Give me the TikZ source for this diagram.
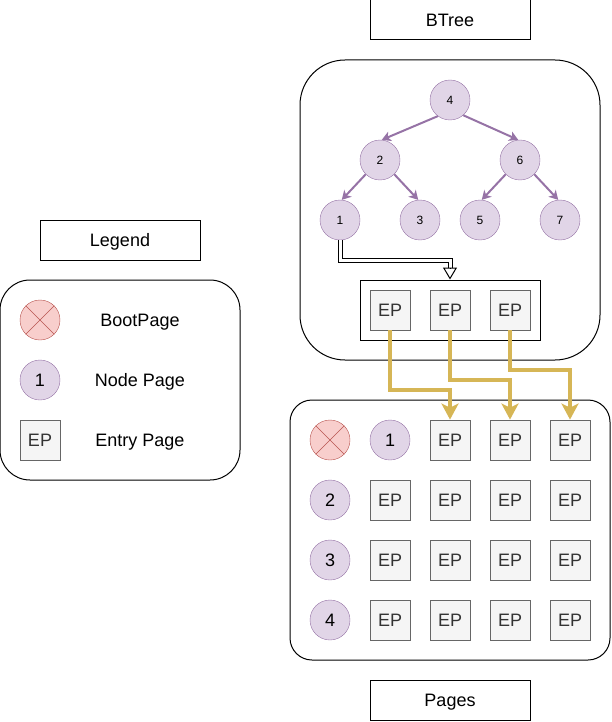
\documentclass[tikz,border=0pt]{standalone}
\usepackage{fontspec}
\setmainfont{Liberation Sans}
\usetikzlibrary{arrows.meta}
\definecolor{nodefill}{HTML}{E1D5E7}
\definecolor{nodeline}{HTML}{9673A6}
\definecolor{bootfill}{HTML}{F8CECC}
\definecolor{bootline}{HTML}{B85450}
\definecolor{epfill}{HTML}{F5F5F5}
\definecolor{epline}{HTML}{666666}
\definecolor{eptext}{HTML}{333333}
\definecolor{gold}{HTML}{D6B656}
\begin{document}
\begin{tikzpicture}[x=1pt,y=-1pt,
  bigfont/.style={font=\fontsize{18}{21}\selectfont,text height=12.9pt,text depth=0pt},
  title/.style={draw,line width=1pt,minimum width=160pt,minimum height=40pt,inner sep=0pt,bigfont},
  label/.style={bigfont},
  page/.style={circle,draw=nodeline,fill=nodefill,minimum size=40pt,inner sep=0pt,bigfont},
  treenode/.style={page,font=\fontsize{12}{14}\selectfont,text height=8.6pt},
  boot/.style={circle,draw=bootline,fill=bootfill,minimum size=40pt,inner sep=0pt,
    path picture={\draw[bootline] (path picture bounding box.south west) -- (path picture bounding box.north east)
      (path picture bounding box.north west) -- (path picture bounding box.south east);}},
  ep/.style={draw=epline,fill=epfill,text=eptext,line width=0.8pt,minimum size=40pt,inner sep=0pt,bigfont},
  treeedge/.style={nodeline,line width=2pt,-{Stealth[length=9pt,width=10pt,inset=2.5pt]}},
  goldarrow/.style={gold,line width=4pt,-{Stealth[length=16pt,width=17pt,inset=4pt]}}]
\useasboundingbox (0,0) rectangle (611,722);

% titles
\node[title] (btreetitle) at (450,20) {BTree};
\node[title] (legendtitle) at (120,240) {Legend};
\node[title] (pagestitle) at (450,700) {Pages};

% containers
\draw[line width=1pt,rounded corners=45pt] (300,60) rectangle (600,360);
\draw[line width=1pt,rounded corners=30pt] (0,280) rectangle (240,480);
\draw[line width=1pt,rounded corners=22pt] (290,400) rectangle (610,660);

% legend
\node[boot] (lboot) at (40,320) {};
\node[label] (lboottext) at (140,320) {BootPage};
\node[page] (lnode) at (40,380) {1};
\node[label] (lnodetext) at (140,380) {Node Page};
\node[ep] (lep) at (40,440) {EP};
\node[label] (leptext) at (140,440) {Entry Page};

% btree
\node[treenode] (n4) at (450,100) {4};
\node[treenode] (n2) at (380,160) {2};
\node[treenode] (n6) at (520,160) {6};
\node[treenode] (n1) at (340,220) {1};
\node[treenode] (n3) at (420,220) {3};
\node[treenode] (n5) at (480,220) {5};
\node[treenode] (n7) at (560,220) {7};
\draw[treeedge] (n4.233) -- (n2.85);
\draw[treeedge] (n4.311) -- (n6.95);
\draw[treeedge] (n2.225) -- (n1.85);
\draw[treeedge] (n2.315) -- (n3.95);
\draw[treeedge] (n6.225) -- (n5.85);
\draw[treeedge] (n6.315) -- (n7.95);

% entry pages of node 1
\node[draw,line width=1pt,minimum width=180pt,minimum height=60pt] (epbox) at (450,310) {};
\node[ep] (ep1) at (390,310) {EP};
\node[ep] (ep2) at (450,310) {EP};
\node[ep] (ep3) at (510,310) {EP};
\draw[line width=1pt,double,double distance=3pt,shorten >=12pt] (n1.south) -- ++(0,20) -| (epbox.north);
\draw[line width=1pt,-{Triangle[open,length=12pt,width=14pt]}] ([yshift=12pt]epbox.north) -- (epbox.north);

% pages
\node[boot] (boot) at (330,440) {};
\node[page] (p1) at (390,440) {1};
\node[ep] (p13) at (450,440) {EP};
\node[ep] (p14) at (510,440) {EP};
\node[ep] (p15) at (570,440) {EP};
\node[page] (p2) at (330,500) {2};
\node[ep] (p22) at (390,500) {EP};
\node[ep] (p23) at (450,500) {EP};
\node[ep] (p24) at (510,500) {EP};
\node[ep] (p25) at (570,500) {EP};
\node[page] (p3) at (330,560) {3};
\node[ep] (p32) at (390,560) {EP};
\node[ep] (p33) at (450,560) {EP};
\node[ep] (p34) at (510,560) {EP};
\node[ep] (p35) at (570,560) {EP};
\node[page] (p4) at (330,620) {4};
\node[ep] (p42) at (390,620) {EP};
\node[ep] (p43) at (450,620) {EP};
\node[ep] (p44) at (510,620) {EP};
\node[ep] (p45) at (570,620) {EP};

% entry pages -> pages
\draw[goldarrow] (ep1.south) -- ++(0,60) -| (p13.north);
\draw[goldarrow] (ep2.south) -- ++(0,50) -| (p14.north);
\draw[goldarrow] (ep3.south) -- ++(0,40) -| (p15.north);
\end{tikzpicture}
\end{document}
